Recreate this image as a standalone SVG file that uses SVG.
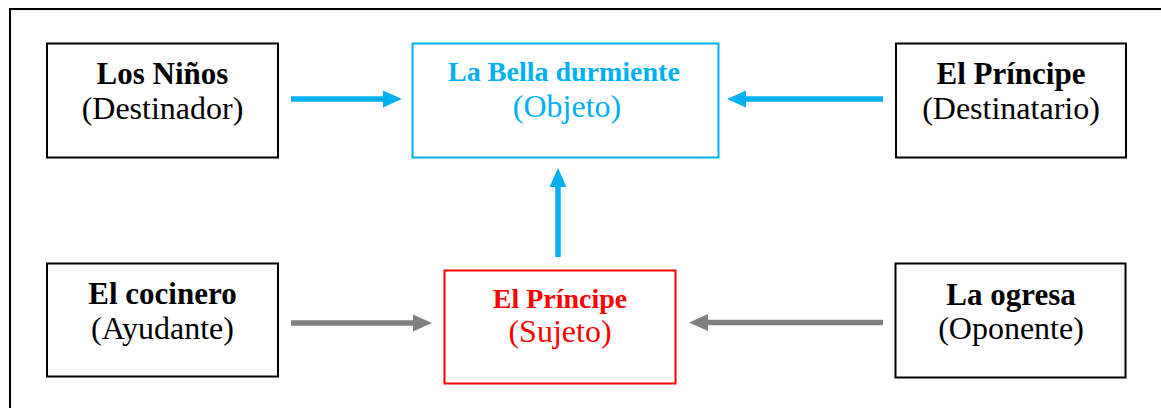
<svg xmlns="http://www.w3.org/2000/svg" width="1161" height="408" viewBox="0 0 1161 408">
<style>
  text { font-family: "Liberation Serif", "Times New Roman", serif; text-anchor: middle; }
  .h { font-weight: bold; font-size: 31px; fill: #000; }
  .s { font-size: 32px; fill: #000; }
  .box { fill: #fff; stroke: #000; stroke-width: 2; }
  .cyan { fill: #00B0F0; }
  .red { fill: #FF0000; }
  .cl { stroke: #00B0F0; stroke-width: 5.5; fill: none; }
  .gl { stroke: #808080; stroke-width: 5.5; fill: none; }
</style>
<defs>
  <marker id="ac" markerUnits="userSpaceOnUse" markerWidth="19" markerHeight="17" refX="0" refY="8.5" orient="auto" overflow="visible">
    <path d="M0,0 L19,8.5 L0,17 Z" fill="#00B0F0"/>
  </marker>
  <marker id="ag" markerUnits="userSpaceOnUse" markerWidth="19" markerHeight="17" refX="0" refY="8.5" orient="auto" overflow="visible">
    <path d="M0,0 L19,8.5 L0,17 Z" fill="#808080"/>
  </marker>
</defs>
<rect x="0" y="0" width="1161" height="408" fill="#fff"/>
<rect x="10" y="9" width="1170" height="420" fill="none" stroke="#000" stroke-width="2"/>

<g id="connectors">
  <line class="cl" x1="291" y1="99" x2="383" y2="99" marker-end="url(#ac)"/>
  <line class="cl" x1="883" y1="99" x2="746" y2="99" marker-end="url(#ac)"/>
  <line class="cl" x1="558" y1="257" x2="558" y2="187" marker-end="url(#ac)"/>
  <line class="gl" x1="291" y1="323" x2="413" y2="323" marker-end="url(#ag)"/>
  <line class="gl" x1="883" y1="322.5" x2="708" y2="322.5" marker-end="url(#ag)"/>
</g>

<g id="los-ninos">
  <rect class="box" x="47" y="43.5" width="231" height="114"/>
  <text class="h" x="162.5" y="84">Los Niños</text>
  <text class="s" x="162.5" y="119">(Destinador)</text>
</g>

<g id="bella">
  <rect x="412.5" y="43.5" width="306" height="114" fill="#fff" stroke="#00B0F0" stroke-width="2"/>
  <text class="h cyan" x="564" y="81" style="font-size:28px">La Bella durmiente</text>
  <text class="s cyan" x="567" y="117">(Objeto)</text>
</g>

<g id="destinatario">
  <rect class="box" x="896" y="43.5" width="230" height="114"/>
  <text class="h" x="1011" y="84">El Príncipe</text>
  <text class="s" x="1011" y="119">(Destinatario)</text>
</g>

<g id="cocinero">
  <rect class="box" x="47" y="263.5" width="231" height="113"/>
  <text class="h" x="162.5" y="304">El cocinero</text>
  <text class="s" x="162.5" y="339">(Ayudante)</text>
</g>

<g id="sujeto">
  <rect x="444.5" y="270.5" width="231" height="113" fill="#fff" stroke="#FF0000" stroke-width="2"/>
  <text class="h red" x="560" y="308" style="font-size:28px">El Príncipe</text>
  <text class="s red" x="560" y="342">(Sujeto)</text>
</g>

<g id="ogresa">
  <rect class="box" x="895.5" y="263.5" width="230" height="114"/>
  <text class="h" x="1011" y="305">La ogresa</text>
  <text class="s" x="1011" y="339">(Oponente)</text>
</g>
</svg>
